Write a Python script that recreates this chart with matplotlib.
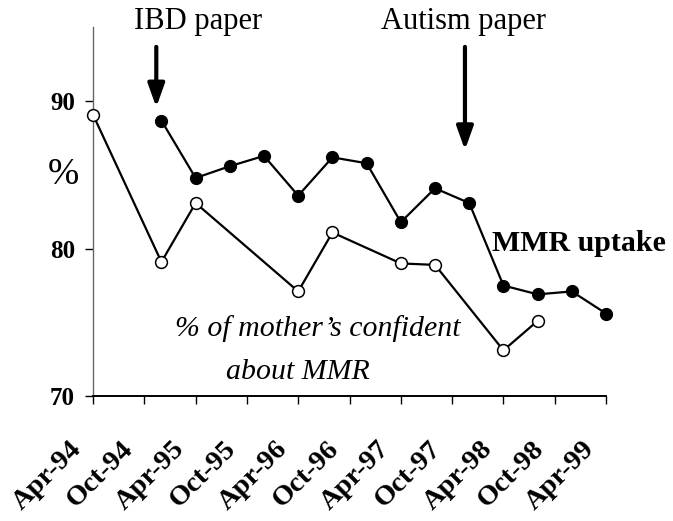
import matplotlib as mpl
mpl.use('Agg')
import matplotlib.pyplot as plt
import matplotlib.transforms as mtransforms

# months since Apr-94, survey points every 4 months
uptake_months = [8, 12, 16, 20, 24, 28, 32, 36, 40, 44, 48, 52, 56, 60]
uptake_pct = [88.7, 84.8, 85.6, 86.3, 83.6, 86.2, 85.8, 81.8, 84.1, 83.1,
              77.5, 76.9, 77.1, 75.6]

confidence_months = [0, 8, 12, 24, 28, 36, 40, 48, 52]
confidence_pct = [89.1, 79.1, 83.1, 77.1, 81.1, 79.0, 78.9, 73.1, 75.1]

tick_months = [0, 6, 12, 18, 24, 30, 36, 42, 48, 54, 60]
tick_labels = ['Apr-94', 'Oct-94', 'Apr-95', 'Oct-95', 'Apr-96', 'Oct-96',
               'Apr-97', 'Oct-97', 'Apr-98', 'Oct-98', 'Apr-99']

ibd_month = 7.4
autism_month = 43.5

mpl.rc('font', family='Liberation Serif')

f = plt.figure(figsize=(6.73, 5.21), dpi=100)
ax = f.add_axes([0.1382, 0.2399, 0.7623, 0.7083])

ax.plot(uptake_months, uptake_pct, color='black', lw=1.6, marker='o',
        ms=8.5, mfc='black', mec='black', zorder=3, clip_on=False)
ax.plot(confidence_months, confidence_pct, color='black', lw=1.6, marker='o',
        ms=8.5, mfc='white', mec='black', mew=1.1, zorder=3, clip_on=False)

ax.set_xlim(0, 60)
ax.set_ylim(70, 95.05)

ax.spines['top'].set_visible(False)
ax.spines['right'].set_visible(False)
ax.spines['left'].set_color('#666666')
ax.spines['left'].set_linewidth(1.0)
ax.spines['bottom'].set_color('black')
ax.spines['bottom'].set_linewidth(1.4)

ax.set_yticks([70, 80, 90])
ax.set_yticklabels(['70', '80', '90'], fontsize=18, fontweight='bold')
ax.tick_params(axis='y', direction='out', length=6, width=1.0, pad=7)

ax.set_xticks(tick_months)
ax.set_xticklabels(tick_labels, fontsize=20.5, fontweight='bold',
                   rotation=45, ha='right')
ax.tick_params(axis='x', direction='out', length=6, width=1.0, pad=23)
shift = mtransforms.ScaledTranslation(-6 / 100, 0, f.dpi_scale_trans)
for lab in ax.get_xticklabels():
    lab.set_transform(lab.get_transform() + shift)

# event arrows
arrow_style = dict(arrowstyle='-|>,head_width=0.5,head_length=1.4',
                   color='black', lw=3, shrinkA=0, shrinkB=0)
ax.annotate('', xy=(ibd_month, 89.6), xytext=(ibd_month, 93.7),
            arrowprops=arrow_style, annotation_clip=False)
ax.annotate('', xy=(autism_month, 86.7), xytext=(autism_month, 93.7),
            arrowprops=arrow_style, annotation_clip=False)

f.text(0.294, 0.958, 'IBD paper', fontsize=22, ha='center', va='center')
f.text(0.689, 0.958, 'Autism paper', fontsize=22, ha='center', va='center')
f.text(0.860, 0.532, 'MMR uptake', fontsize=21.5, fontweight='bold',
       ha='center', va='center')
f.text(0.4725, 0.370, '% of mother\u2019s confident', fontsize=21.5,
       style='italic', ha='center', va='center')
f.text(0.4428, 0.286, 'about MMR', fontsize=21.5, style='italic',
       ha='center', va='center')
f.text(0.0936, 0.664, '%', fontsize=27, ha='center', va='center')

plt.savefig('out.png', dpi=100)
plt.close(f)
